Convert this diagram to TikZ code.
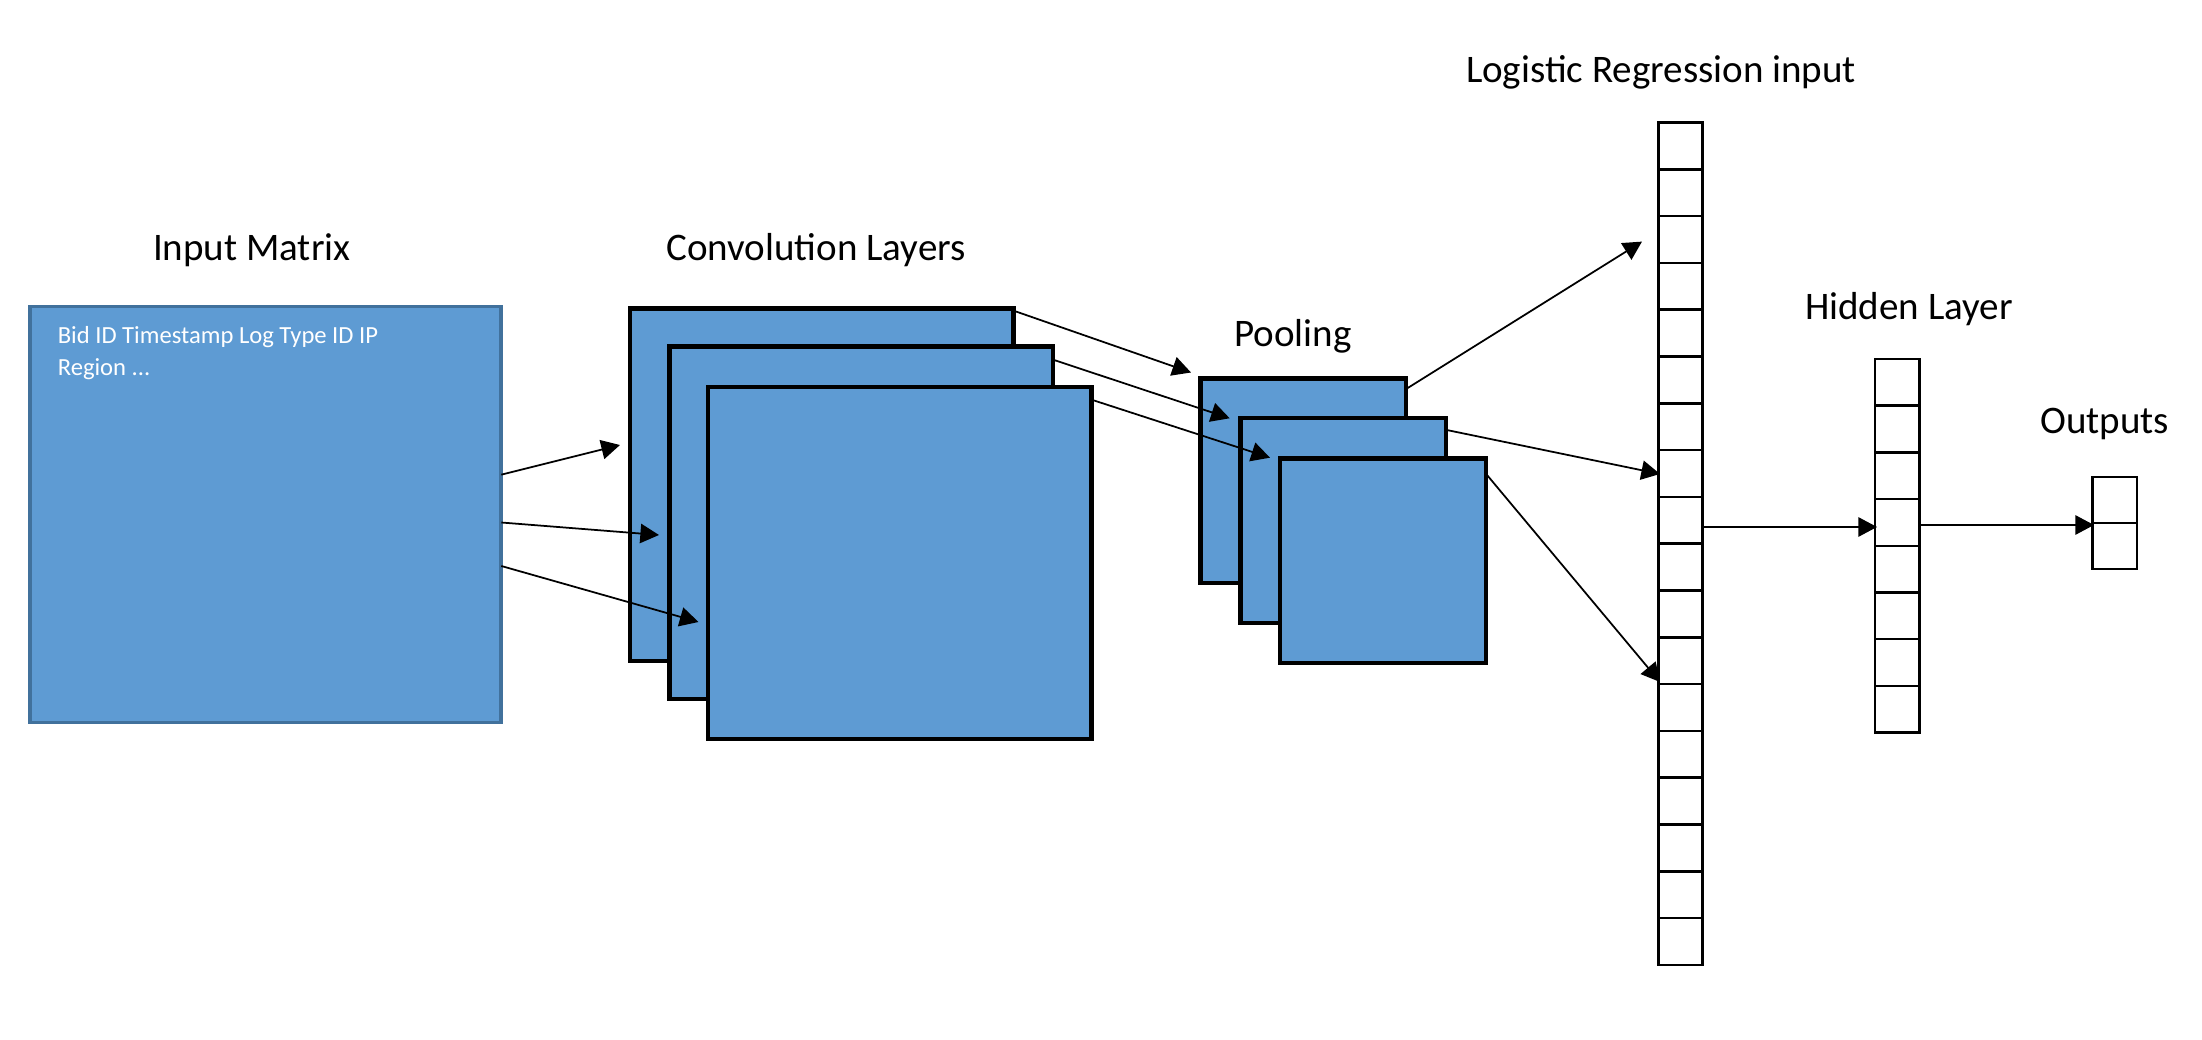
\documentclass[tikz,border=0pt]{standalone}
\usepackage{fontspec}
\setmainfont{Carlito}
\usetikzlibrary{arrows.meta}
\definecolor{boxblue}{HTML}{5E9BD3}
\definecolor{boxedge}{HTML}{41719C}
\newcommand\pbox[6]{\node[#1, minimum width={(#4-#2)*0.01cm}, minimum height={(#5-#3)*0.01cm}] (#6) at (#2,#3) {};}
\begin{document}
\begin{tikzpicture}[x=0.01cm,y=-0.01cm,
  title/.style={anchor=base, inner sep=0pt, font=\fontsize{11.1}{13}\selectfont},
  bidtext/.style={anchor=base west, inner sep=0pt, text=white, font=\fontsize{7}{9}\selectfont},
  inbox/.style={draw=boxedge, fill=boxblue, line width=1pt, rectangle, inner sep=0pt, outer sep=0pt, anchor=north west},
  layer/.style={draw=black, fill=boxblue, line width=1.15pt, rectangle, inner sep=0pt, outer sep=0pt, anchor=north west},
  cell/.style={draw=black, fill=white, line width=0.7pt, rectangle, inner sep=0pt, outer sep=0pt, anchor=north west, minimum width={44.4*0.01cm}},
  conn/.style={-{Triangle[length=5.3pt,width=5.5pt]}, line width=0.5pt}
]
\fill[white] (0,0) rectangle (2202,1040);
\useasboundingbox (0,0) rectangle (2202,1040);

% titles
\node[title] (tin) at (251.8,260.4) {Input Matrix};
\node[title] (tconv) at (816,260.4) {Convolution Layers};
\node[title] (tpool) at (1293,346.7) {Pooling};
\node[title] (tlr) at (1661,83) {Logistic Regression input};
\node[title] (thid) at (1909,320) {Hidden Layer};
\node[title] (tout) at (2104.8,433.7) {Outputs};

% input matrix
\pbox{inbox}{30}{306.5}{501}{722.7}{inp}
\node[bidtext] (bid1) at (57.1,343.9) {Bid ID Timestamp Log Type ID IP};
\node[bidtext] (bid2) at (57.1,375.4) {Region ...};

% convolution layers
\pbox{layer}{630.3}{308.5}{1013.5}{661}{c1}
\pbox{layer}{669.5}{346.5}{1053}{699}{c2}
\pbox{layer}{708}{387}{1091.5}{739}{c3}

% pooling
\pbox{layer}{1200.5}{378.5}{1405.8}{583.2}{p1}
\pbox{layer}{1240.5}{418}{1446}{623.2}{p2}
\pbox{layer}{1279.7}{458.5}{1486.2}{663.2}{p3}

% logistic regression input column
\foreach \i in {0,...,17}
  \node[cell, minimum height={46.8*0.01cm}] (lr\i) at (1658.3,{122.5+46.8*\i}) {};
% hidden layer column
\foreach \i in {0,...,7}
  \node[cell, minimum height={46.7*0.01cm}] (h\i) at (1875.2,{359+46.7*\i}) {};
% outputs column
\foreach \i in {0,1}
  \node[cell, minimum height={46*0.01cm}] (o\i) at (2092.6,{477+46*\i}) {};

% connector ends
\coordinate (a1s) at (501.3,474.7); \coordinate (a1t) at (620,445);
\coordinate (a2s) at (501.3,522.5); \coordinate (a2t) at (659,535);
\coordinate (a3s) at (501.3,566);   \coordinate (a3t) at (698.5,622);
\coordinate (b1s) at (1014.5,311);  \coordinate (b1t) at (1191,372.5);
\coordinate (b2s) at (1054,360);    \coordinate (b2t) at (1229.7,418.3);
\coordinate (b3s) at (1092.5,400);  \coordinate (b3t) at (1270,457.7);
\coordinate (d1s) at (1406.6,388.7); \coordinate (d1t) at (1642,241.6);
\coordinate (d2s) at (1446.7,430);  \coordinate (d2t) at (1660,474);
\coordinate (d3s) at (1487,475);    \coordinate (d3t) at (1660,682);
\coordinate (e1s) at (1702.8,527);  \coordinate (e1t) at (1877,527);
\coordinate (f1s) at (1919.2,525);  \coordinate (f1t) at (2094,525);

\draw[conn] (a1s) -- (a1t);
\draw[conn] (a2s) -- (a2t);
\draw[conn] (a3s) -- (a3t);
\draw[conn] (b1s) -- (b1t);
\draw[conn] (b2s) -- (b2t);
\draw[conn] (b3s) -- (b3t);
\draw[conn] (d1s) -- (d1t);
\draw[conn] (d2s) -- (d2t);
\draw[conn] (d3s) -- (d3t);
\draw[conn] (e1s) -- (e1t);
\draw[conn] (f1s) -- (f1t);
\end{tikzpicture}
\end{document}
